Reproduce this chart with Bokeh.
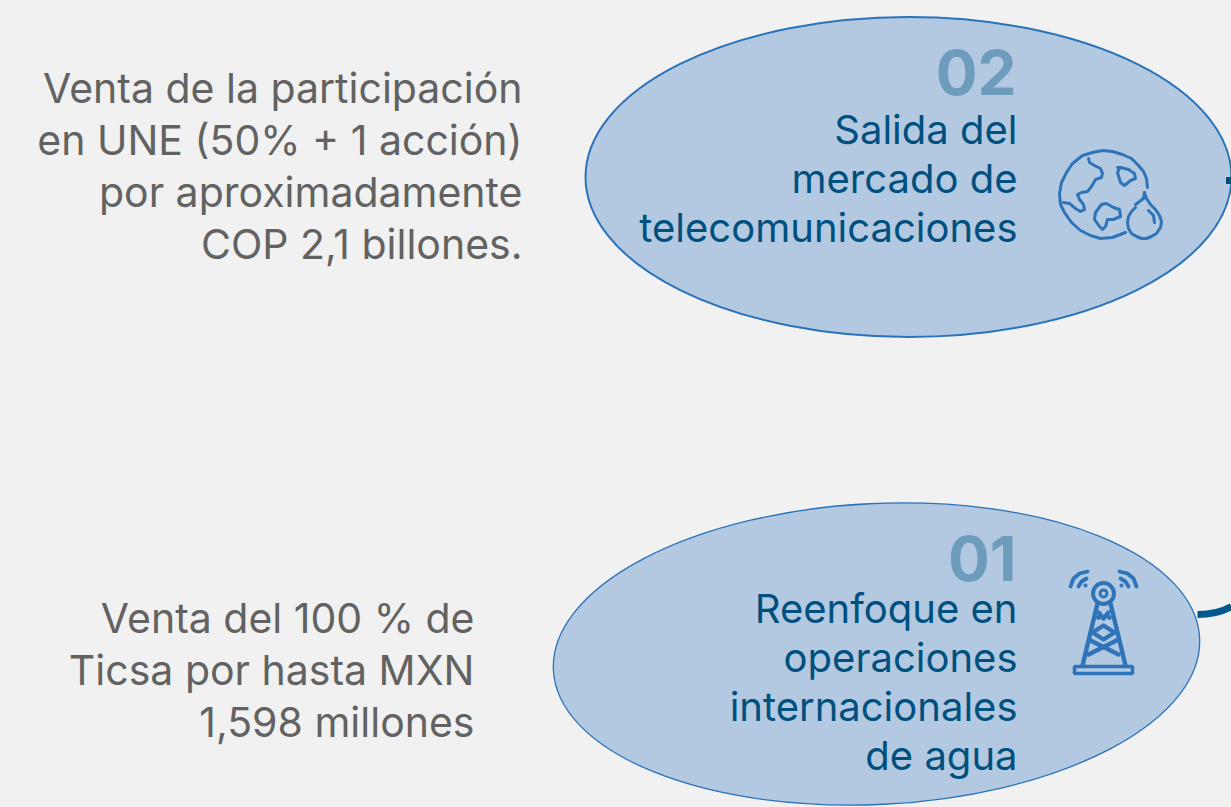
from bokeh.plotting import figure
from bokeh.embed import file_html
from bokeh.resources import INLINE
from bokeh.core.properties import value
from bokeh.models import Range1d

BG = "#f1f1f1"; FILL = "#b2c9e1"; EDGE = "#2a72b9"; DARK = "#00507f"; NUM = "#6e9cbd"; GREY = "#626262"; ICON = "#2f74b8"
FONT = "Inter"

left_top = ["Venta de la participación", "en UNE (50% + 1 acción)", "por aproximadamente", "COP 2,1 billones."]
left_top_y = [87, 139, 191, 243]
left_bot = ["Venta del 100 % de", "Ticsa por hasta MXN", "1,598 millones"]
left_bot_y = [617, 669, 721]
blue_top = ["Salida del", "mercado de", "telecomunicaciones"]
blue_top_y = [129, 178, 227]
blue_bot = ["Reenfoque en", "operaciones", "internacionales", "de agua"]
blue_bot_y = [608, 657, 706, 755]
numbers = ["02", "01"]
number_y = [72, 558]

ell_x = [908, 876]; ell_y = [176.5, 653.5]; ell_w = [646, 647]; ell_h = [320, 301]; ell_a = [0.0, 0.05]
ell_lw = [2.0, 1.3]

p = figure(width=1231, height=807, x_range=Range1d(0, 1231), y_range=Range1d(807, 0),
           toolbar_location=None, output_backend="svg", background_fill_color=BG,
           border_fill_color=BG, outline_line_color=None, min_border=0)
p.axis.visible = False
p.grid.visible = False

# connector behind ellipse 01
p.bezier(x0=[1197], y0=[614], x1=[1231], y1=[606], cx0=[1212], cy0=[614], cx1=[1224], cy1=[610],
         line_color="#005a8c", line_width=7)

p.ellipse(ell_x, ell_y, width=ell_w, height=ell_h, angle=ell_a, fill_color=FILL, line_color=EDGE, line_width=ell_lw)

# connector stub on ellipse 02
p.rect([1229], [180], width=6, height=6, color=DARK)

def txt(lines, ys, x, size, color, style="normal"):
    p.text([x] * len(lines), ys, text=lines, text_align="right", text_baseline="alphabetic",
           text_color=color, text_font=value(FONT), text_font_size=size, text_font_style=style)

txt(left_top, left_top_y, 522, "41px", GREY)
txt(left_bot, left_bot_y, 474, "41px", GREY)
txt(blue_top, blue_top_y, 1017, "40px", DARK)
txt(blue_bot, blue_bot_y, 1017, "40px", DARK)
txt(numbers, number_y, 1016, "62px", NUM, "bold")

# globe icon
globe_xs = [
    [1147, 1146, 1143, 1138, 1131, 1122, 1112, 1102, 1092, 1082, 1072, 1066, 1061, 1059, 1060, 1064, 1071, 1080, 1090, 1100, 1112, 1125],
    [1088, 1089, 1094, 1100, 1102, 1101, 1095, 1091, 1087, 1081, 1077, 1079, 1083, 1084, 1080, 1075, 1069, 1063],
    [1119, 1117, 1120, 1124, 1130, 1135, 1134, 1128, 1120, 1117, 1119],
    [1095, 1101, 1106, 1113, 1119, 1120, 1113, 1107, 1105, 1102, 1099, 1094, 1095],
    [1144, 1143, 1139, 1135],
    [1135, 1131, 1128, 1127, 1128, 1131, 1136, 1141, 1146, 1151, 1156, 1160, 1161, 1159, 1155, 1150, 1146, 1144],
    [1148, 1153, 1154],
]
globe_ys = [
    [187, 178, 171, 165, 158, 154, 151, 150, 152, 155, 163, 172, 182, 193, 204, 212, 222, 230, 235, 238, 237, 232],
    [158, 162, 165, 168, 173, 177, 179, 186, 191, 192, 194, 199, 204, 209, 211, 208, 203, 202],
    [168, 172, 182, 185, 180, 178, 173, 169, 167, 167, 168],
    [212, 204, 203, 207, 209, 216, 219, 219, 226, 229, 226, 219, 212],
    [192, 198, 201, 204],
    [207, 211, 216, 222, 228, 233, 236, 238, 238, 236, 233, 227, 221, 215, 209, 204, 198, 192],
    [210, 215, 222],
]
p.multi_line(globe_xs, globe_ys, line_color=ICON, line_width=3, line_cap="round", line_join="round")

# tower icon
tower_xs = [
    [1097, 1082], [1110, 1125], [1098, 1103, 1108],
    [1092, 1103, 1114, 1103, 1092], [1090, 1118], [1116, 1088],
]
tower_ys = [
    [603, 665], [603, 665], [612, 618, 612],
    [632, 625, 632, 639, 632], [640, 654], [640, 654],
]
p.multi_line(tower_xs, tower_ys, line_color=ICON, line_width=4.4, line_cap="round", line_join="round")
p.circle([1098, 1109], [617, 617], radius=[2, 2], color=ICON)
arc_xs = [[1070, 1073, 1079, 1087], [1078, 1081, 1086], [1136, 1133, 1127, 1119], [1128, 1125, 1120]]
arc_ys = [[586, 578, 573, 571], [586, 581, 578], [586, 578, 573, 571], [586, 581, 578]]
p.multi_line(arc_xs, arc_ys, line_color=ICON, line_width=3.8, line_cap="round", line_join="round")
p.circle([1085, 1121], [585, 585], radius=[1.6, 1.6], color=ICON)
p.rect([1103], [669.5], width=58, height=7, fill_color=FILL, line_color=ICON, line_width=3.5)
p.circle([1103], [593], radius=[10.5], fill_color=FILL, line_color=ICON, line_width=4)
p.circle([1103], [593], radius=[3.5], fill_color=FILL, line_color=ICON, line_width=3)

html = file_html(p, INLINE)
html = html.replace("</head>", "<style>html,body{margin:0;background:#f1f1f1;overflow:hidden}</style></head>")
open("out.html", "w").write(html)
